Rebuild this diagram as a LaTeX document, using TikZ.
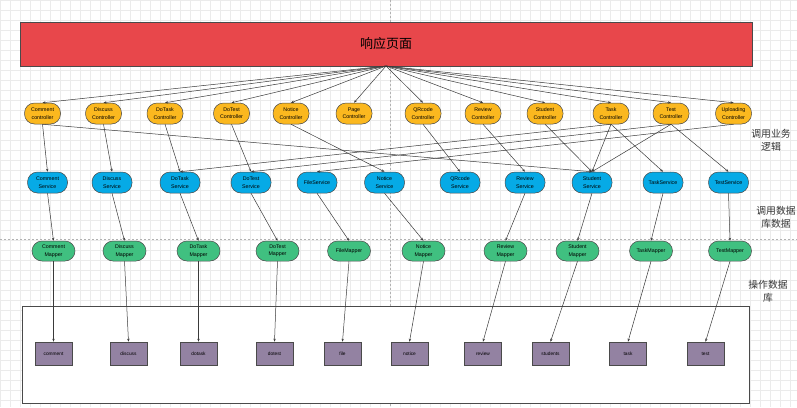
\documentclass[tikz,border=0pt]{standalone}
\usepackage{fontspec}
\setmainfont{Liberation Sans}
\newfontfamily\cjk{Noto Sans CJK SC}
\usetikzlibrary{arrows.meta}
\definecolor{redbox}{HTML}{E8474B}
\definecolor{ctrlc}{HTML}{FBB81F}
\definecolor{servc}{HTML}{06AAE6}
\definecolor{mapc}{HTML}{40C080}
\definecolor{tabc}{HTML}{9382A2}
\definecolor{bordc}{HTML}{4A4A4A}
\definecolor{linec}{HTML}{3A3A3A}
\definecolor{gridc}{HTML}{EBEBEB}
\begin{document}
\begin{tikzpicture}[x=1pt,y=-1pt,
  gridline/.style={draw=gridc,line width=0.4pt},
  pageline/.style={draw=gray!60,line width=0.4pt,dash pattern=on 2pt off 2pt},
  smalltext/.style={font=\fontsize{5.3}{7.4}\selectfont},
  ctrl/.style={draw=bordc,fill=ctrlc,rounded corners=10pt,minimum width=36pt,minimum height=21pt,inner sep=0pt,align=center,smalltext,line width=0.5pt},
  serv/.style={draw=bordc,fill=servc,rounded corners=10pt,minimum width=40pt,minimum height=21pt,inner sep=0pt,align=center,smalltext,line width=0.5pt},
  mapr/.style={draw=bordc,fill=mapc,rounded corners=10pt,minimum width=43pt,minimum height=20pt,inner sep=0pt,align=center,smalltext,line width=0.5pt},
  tabl/.style={draw=bordc,fill=tabc,minimum width=37pt,minimum height=23pt,inner sep=0pt,align=center,font=\fontsize{4.8}{6}\selectfont,line width=0.6pt},
  conn/.style={draw=linec,line width=0.5pt,-{Stealth[length=3pt,width=2.4pt]}},
  sidelabel/.style={align=center,font=\cjk\fontsize{9.8}{13}\selectfont,text=black!80,inner sep=0pt}
]
\useasboundingbox (0,0) rectangle (797,407);
\fill[white] (0,0) rectangle (797,407);
% grid
\foreach \x in {0,10,...,790} \draw[gridline] (\x,0) -- (\x,407);
\foreach \y in {0,10,...,400} \draw[gridline] (0,\y) -- (797,\y);
\draw[pageline] (390,0) -- (390,407);
\draw[pageline] (0,239) -- (797,239);

% database frame
\node[draw=bordc,fill=white,line width=0.6pt,minimum width=727pt,minimum height=97pt,inner sep=0pt] (dbframe) at (385.5,354.5) {};

% title box
\node[draw=bordc,fill=redbox,minimum width=732pt,minimum height=44pt,inner sep=0pt,font=\cjk\fontsize{13}{15}\selectfont] (page) at (386,44) {响应页面};
\coordinate (hub) at (386,66);

% controllers
\node[ctrl] (c1) at (42.5,113.5) {Comment\\controller};
\node[ctrl] (c2) at (103.5,113.5) {Discuss\\Controller};
\node[ctrl] (c3) at (165,113.5) {DoTask\\Controller};
\node[ctrl] (c4) at (231.5,113.5) {DoTest\\Controller};
\node[ctrl] (c5) at (291,113.5) {Notice\\Controller};
\node[ctrl] (c6) at (354,113.5) {Page\\Controller};
\node[ctrl] (c7) at (423,113.5) {QRcode\\Controller};
\node[ctrl] (c8) at (483,113.5) {Review\\Controller};
\node[ctrl] (c9) at (545,113.5) {Student\\Controller};
\node[ctrl] (c10) at (611,113.5) {Task\\Controller};
\node[ctrl] (c11) at (671,113.5) {Test\\Controller};
\node[ctrl] (c12) at (733.5,113.5) {Uploading\\Controller};

% services
\node[serv] (s1) at (47.5,182.5) {Comment\\Service};
\node[serv] (s2) at (112,182.5) {Discuss\\Service};
\node[serv] (s3) at (180,182.5) {DoTask\\Service};
\node[serv] (s4) at (251,182.5) {DoTest\\Service};
\node[serv] (s5) at (317,182.5) {FileService};
\node[serv] (s6) at (384.5,182.5) {Notice\\Service};
\node[serv] (s7) at (460,182.5) {QRcode\\Service};
\node[serv] (s8) at (525,182.5) {Review\\Service};
\node[serv] (s9) at (592,182.5) {Student\\Service};
\node[serv] (s10) at (663,182.5) {TaskService};
\node[serv] (s11) at (728.5,182.5) {TestService};

% mappers
\node[mapr] (m1) at (53.5,251) {Comment\\Mapper};
\node[mapr] (m2) at (124.5,251) {Discuss\\Mapper};
\node[mapr] (m3) at (198.5,251) {DoTask\\Mapper};
\node[mapr] (m4) at (277.5,251) {DoTest\\Mapper};
\node[mapr] (m5) at (349,251) {FileMapper};
\node[mapr] (m6) at (423.5,251) {Notice\\Mapper};
\node[mapr] (m7) at (505.5,251) {Review\\Mapper};
\node[mapr] (m8) at (577.5,251) {Student\\Mapper};
\node[mapr] (m9) at (651,251) {TaskMapper};
\node[mapr] (m10) at (730,251) {TestMapper};

% tables
\node[tabl] (t1) at (53.5,353.5) {comment};
\node[tabl] (t2) at (128.5,353.5) {discuss};
\node[tabl] (t3) at (198.5,353.5) {dotask};
\node[tabl] (t4) at (274.5,353.5) {dotest};
\node[tabl] (t5) at (342.5,353.5) {file};
\node[tabl] (t6) at (409.5,353.5) {notice};
\node[tabl] (t7) at (483,353.5) {review};
\node[tabl] (t8) at (550.5,353.5) {students};
\node[tabl] (t9) at (628,353.5) {task};
\node[tabl] (t10) at (705.5,353.5) {test};

% side labels
\node[sidelabel] (l1) at (771,140) {调用业务\\逻辑};
\node[sidelabel] (l2) at (776,217) {调用数据\\库数据};
\node[sidelabel] (l3) at (768,291) {操作数据\\库};

% hub to controllers
\foreach \i in {1,...,12} \draw[conn] (hub) -- (c\i.north);

% controllers to services
\draw[conn] (c1.south) -- (s1.north);
\draw[conn] (c1.south) -- (s9.north);
\draw[conn] (c2.south) -- (s2.north);
\draw[conn] (c3.south) -- (s3.north);
\draw[conn] (c4.south) -- (s4.north);
\draw[conn] (c5.south) -- (s6.north);
\draw[conn] (c7.south) -- (s7.north);
\draw[conn] (c8.south) -- (s8.north);
\draw[conn] (c9.south) -- (s9.north);
\draw[conn] (c10.south) -- (s3.north);
\draw[conn] (c10.south) -- (s9.north);
\draw[conn] (c10.south) -- (s10.north);
\draw[conn] (c11.south) -- (s4.north);
\draw[conn] (c11.south) -- (s9.north);
\draw[conn] (c11.south) -- (s11.north);
\draw[conn] (c12.south) -- (s5.north);

% services to mappers
\draw[conn] (s1.south) -- (m1.north);
\draw[conn] (s2.south) -- (m2.north);
\draw[conn] (s3.south) -- (m3.north);
\draw[conn] (s4.south) -- (m4.north);
\draw[conn] (s5.south) -- (m5.north);
\draw[conn] (s6.south) -- (m6.north);
\draw[conn] (s8.south) -- (m7.north);
\draw[conn] (s9.south) -- (m8.north);
\draw[conn] (s10.south) -- (m9.north);
\draw[conn] (s11.south) -- (m10.north);

% mappers to tables
\foreach \i in {1,...,10} \draw[conn] (m\i.south) -- (t\i.north);
\end{tikzpicture}
\end{document}
